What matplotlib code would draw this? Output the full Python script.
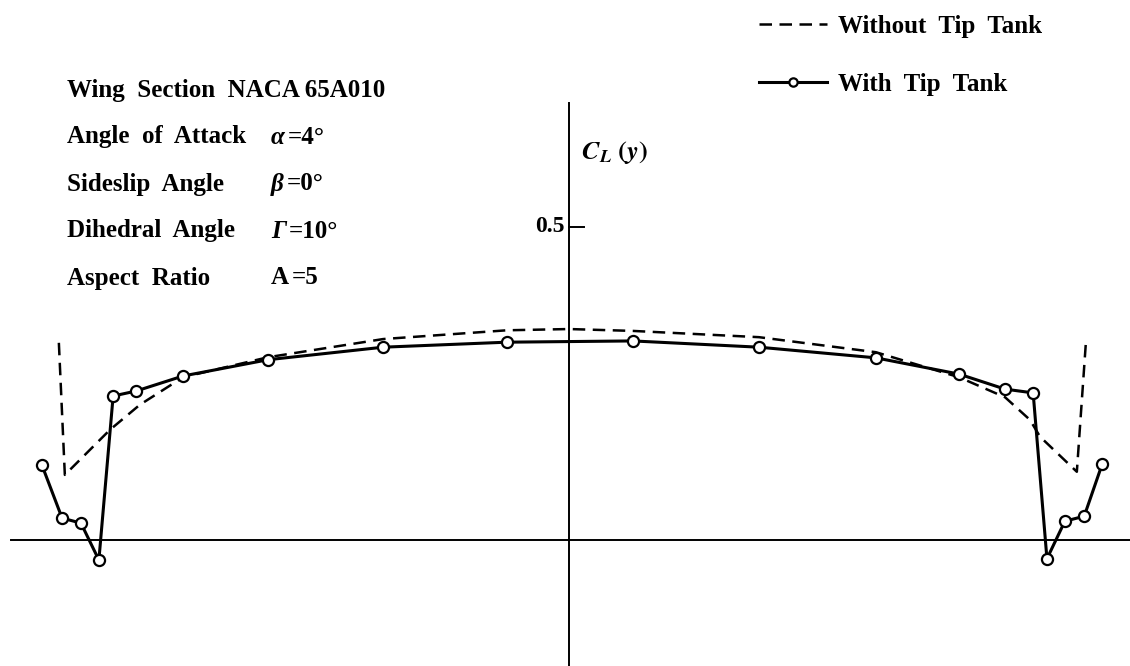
import matplotlib
matplotlib.use('Agg')
import matplotlib.pyplot as plt

plt.rcParams['font.family'] = ['Liberation Serif', 'DejaVu Serif']
plt.rcParams['mathtext.fontset'] = 'stix'

# spanwise stations (fraction of semi-span) and section lift coefficient
span_without = [-1.109, -1.096, -0.998, -0.933, -0.839, -0.654, -0.404, -0.135, 0.0,
                0.139, 0.413, 0.667, 0.848, 0.948, 1.002, 1.024, 1.104, 1.124]
cl_without = [0.315, 0.104, 0.176, 0.216, 0.260, 0.292, 0.321, 0.335, 0.337,
              0.334, 0.324, 0.300, 0.260, 0.228, 0.192, 0.165, 0.109, 0.319]

span_with = [-1.146, -1.102, -1.061, -1.022, -0.991, -0.941, -0.839, -0.654, -0.404, -0.135,
             0.139, 0.413, 0.667, 0.848, 0.948, 1.009, 1.039, 1.078, 1.120, 1.159]
cl_with = [0.120, 0.035, 0.027, -0.032, 0.230, 0.238, 0.262, 0.288, 0.308, 0.316,
           0.318, 0.308, 0.291, 0.265, 0.241, 0.235, -0.030, 0.030, 0.038, 0.121]

# (label, symbol, value)
conditions = [
    ("Wing  Section  NACA 65A010", "", ""),
    ("Angle  of  Attack", "α", "=4°"),
    ("Sideslip  Angle", "β", "=0°"),
    ("Dihedral  Angle", "Γ", "=10°"),
    ("Aspect  Ratio", "A", "=5"),
]

# canvas geometry in pixels
W, H = 1130, 666
X0, SEMI = 569, 460      # origin column, pixels per semi-span
Y0, UNIT = 540, 626      # zero-lift row, pixels per unit C_L
FS = 18

fig = plt.figure(figsize=(W / 100, H / 100), dpi=100)
ax = fig.add_axes([0, 0, 1, 1])
ax.set_xlim(-X0 / SEMI, (W - X0) / SEMI)
ax.set_ylim(-(H - Y0) / UNIT, Y0 / UNIT)
ax.axis('off')


def fx(x, y):
    return x / W, 1 - y / H


# axes
ax.axhline(0, xmin=11 / W, xmax=1, color='black', lw=1.4)
ax.axvline(0, ymin=0, ymax=(H - 103) / H, color='black', lw=1.4)
ax.plot([0, 15 / SEMI], [0.5, 0.5], color='black', lw=1.4)
ax.text(-4 / SEMI, 0.5, '0.5', ha='right', va='center', fontsize=FS - 1, fontweight='bold')
ax.text(12 / SEMI, (Y0 - 153) / UNIT,
        r'$\boldsymbol{C}_{\boldsymbol{L}}\ \mathbf{(}\boldsymbol{y}\mathbf{)}$',
        ha='left', va='center', fontsize=FS + 1)

# curves
l1, = ax.plot(span_without, cl_without, color='black', lw=1.8, dashes=(5, 3),
              label='Without  Tip  Tank')
l2, = ax.plot(span_with, cl_with, color='black', lw=2.2, marker='o', ms=8,
              mfc='white', mec='black', mew=1.6, label='With  Tip  Tank')

# flight conditions block
for i, (name, sym, val) in enumerate(conditions):
    y = 90 + i * 47
    fig.text(*fx(67, y), name, ha='left', va='center', fontsize=FS, fontweight='bold')
    if sym:
        s = fig.text(*fx(271, y), sym, ha='left', va='center', fontsize=FS,
                     fontweight='bold', fontstyle='normal' if sym == 'A' else 'italic')
        ax.annotate(val, xy=(1, 0.5), xycoords=s, xytext=(2, 0), textcoords='offset points',
                    ha='left', va='center', fontsize=FS, fontweight='bold')

leg = ax.legend(handles=[l1, l2], loc='upper left', bbox_to_anchor=fx(736, -8),
                bbox_transform=fig.transFigure, frameon=False,
                prop={'weight': 'bold', 'size': FS},
                handlelength=2.75, handletextpad=0.42, labelspacing=1.4,
                numpoints=1, markerscale=0.75)

plt.savefig('out.png', dpi=100)
